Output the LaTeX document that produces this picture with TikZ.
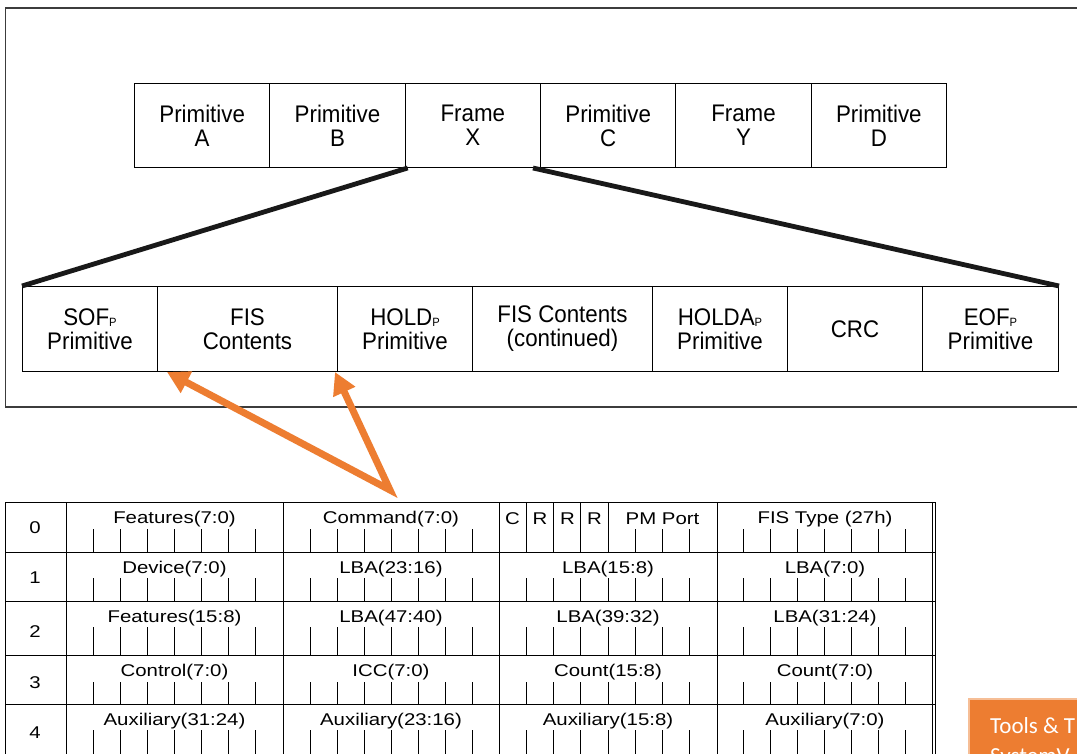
\documentclass[tikz,border=0pt]{standalone}
\usepackage{fontspec}
\setmainfont{Liberation Sans}
\newfontfamily\boxfont[FakeStretch=0.93]{Liberation Sans}
\newfontfamily\tabfont[FakeStretch=1.2]{Liberation Sans}
\newfontfamily\califont{Carlito}
\usetikzlibrary{arrows.meta}
\definecolor{sataorange}{RGB}{237,125,49}
\definecolor{paleorange}{RGB}{246,190,150}
\definecolor{framegray}{RGB}{60,60,60}
\newcommand\mysubp{{\fontsize{12}{12}\selectfont\raisebox{-1pt}{P}}}
\begin{document}
\begin{tikzpicture}[x=1pt,y=-1pt,
  cell/.style={draw=black, line width=1pt, inner sep=0pt, anchor=north west, align=center,
    minimum height=84pt, font=\boxfont\fontsize{24}{24}\selectfont},
  zoomline/.style={line width=4.8pt, black!90},
  callout/.style={sataorange, line width=7pt, line join=miter,
    {Triangle[length=22pt,width=23pt]}-{Triangle[length=22pt,width=23pt]}},
  tabline/.style={black, line width=0.9pt},
  bittick/.style={black, line width=0.9pt},
  tabtxt/.style={inner sep=0pt, font=\tabfont\fontsize{17}{17}\selectfont},
  outerframe/.style={framegray, line width=1.5pt},
  toolsbox/.style={fill=sataorange, draw=paleorange, line width=2pt, anchor=north west,
    minimum width=130pt, minimum height=70pt, inner sep=0pt},
  toolstxt/.style={anchor=base west, inner sep=0pt, text=white, font=\califont\fontsize{23}{23}\selectfont}
]
\useasboundingbox (0,0) rectangle (1077,754);
\clip (0,0) rectangle (1077,754);
\fill[white] (0,0) rectangle (1077,754);

% outer frame
\draw[outerframe] (1085,8) -- (5.5,8) -- (5.5,407) -- (1085,407);

% top row
\node[cell, minimum width=135.33pt] (pa) at (134,83) {Primitive\\A};
\node[cell, minimum width=135.33pt] (pb) at (269.33,83) {Primitive\\B};
\node[cell, minimum width=135.33pt] (fx) at (404.67,83) {Frame\\X};
\node[cell, minimum width=135.33pt] (pc) at (540,83) {Primitive\\C};
\node[cell, minimum width=135.33pt] (fy) at (675.33,83) {Frame\\Y};
\node[cell, minimum width=135.33pt] (pd) at (810.67,83) {Primitive\\D};

% bottom row
\node[cell, minimum width=135pt, minimum height=85pt] (sof) at (22,286) {SOF\mysubp\\Primitive};
\node[cell, minimum width=180pt, minimum height=85pt] (fis) at (157,286) {FIS\\Contents};
\node[cell, minimum width=135pt, minimum height=85pt] (hold) at (337,286) {HOLD\mysubp\\Primitive};
\node[cell, minimum width=180pt, minimum height=85pt] (fisc) at (472,286) {FIS Contents\\(continued)};
\node[cell, minimum width=135pt, minimum height=85pt] (holda) at (652,286) {HOLDA\mysubp\\Primitive};
\node[cell, minimum width=135pt, minimum height=85pt] (crc) at (787,286) {CRC};
\node[cell, minimum width=136pt, minimum height=85pt] (eof) at (922,286) {EOF\mysubp\\Primitive};

% expansion lines
\draw[zoomline] ([xshift=3pt]fx.south west) -- (sof.north west);
\draw[zoomline] ([xshift=-8pt]fx.south east) -- (eof.north east);

% table grid
\foreach \y in {502,552,601,655,704}
  \draw[tabline] (5,\y) -- (935.5,\y);
\foreach \x in {5,66,283,499,717,932,935.5}
  \draw[tabline] (\x,502) -- (\x,760);
\foreach \ya/\yb/\yt in {502/552/529, 552/601/578, 601/655/627, 655/704/682, 704/760/730}{
  \foreach \xa/\xb in {66/283, 283/499, 499/717, 717/932}{
    \foreach \k in {1,...,7}{
      \draw[bittick] ({\xa+\k*(\xb-\xa)/8},\yt) -- ({\xa+\k*(\xb-\xa)/8},\yb);
    }
  }
}
\foreach \k in {1,...,4}
  \draw[bittick] ({499+\k*218/8},502) -- ({499+\k*218/8},529);

% row numbers
\foreach \r/\y in {0/528,1/578,2/632,3/683,4/733}
  \node[tabtxt] (n\r) at (35,\y) {\r};

% row 0 labels
\node[tabtxt] (l0a) at (174.5,519) {Features(7:0)};
\node[tabtxt] (l0b) at (391,519) {Command(7:0)};
\node[tabtxt] (l0c) at (512.5,519) {C};
\node[tabtxt] (l0r1) at (540,519) {R};
\node[tabtxt] (l0r2) at (567.5,519) {R};
\node[tabtxt] (l0r3) at (594.5,519) {R};
\node[tabtxt] (l0pm) at (662.5,519) {PM Port};
\node[tabtxt] (l0d) at (825,519) {FIS Type (27h)};

% other rows
\foreach \r/\y/\a/\b/\c/\d in {
  1/569/Device(7:0)/LBA(23:16)/LBA(15:8)/LBA(7:0),
  2/618/Features(15:8)/LBA(47:40)/LBA(39:32)/LBA(31:24),
  3/672/Control(7:0)/ICC(7:0)/Count(15:8)/Count(7:0),
  4/721/Auxiliary(31:24)/Auxiliary(23:16)/Auxiliary(15:8)/Auxiliary(7:0)}{
  \node[tabtxt] (l\r a) at (174.5,\y) {\a};
  \node[tabtxt] (l\r b) at (391,\y) {\b};
  \node[tabtxt] (l\r c) at (608,\y) {\c};
  \node[tabtxt] (l\r d) at (825,\y) {\d};
}

% orange callout arrows
\coordinate (ctail) at (390,490);
\draw[callout] ([xshift=10pt]fis.south west) -- (ctail) -- ([xshift=-3pt]fis.south east);

% orange box
\node[toolsbox] (tools) at (968,698) {};
\node[toolstxt] (toolsa) at (990,733) {Tools \& T};
\node[toolstxt] (toolsb) at (990,763) {SystemV};
\end{tikzpicture}
\end{document}
